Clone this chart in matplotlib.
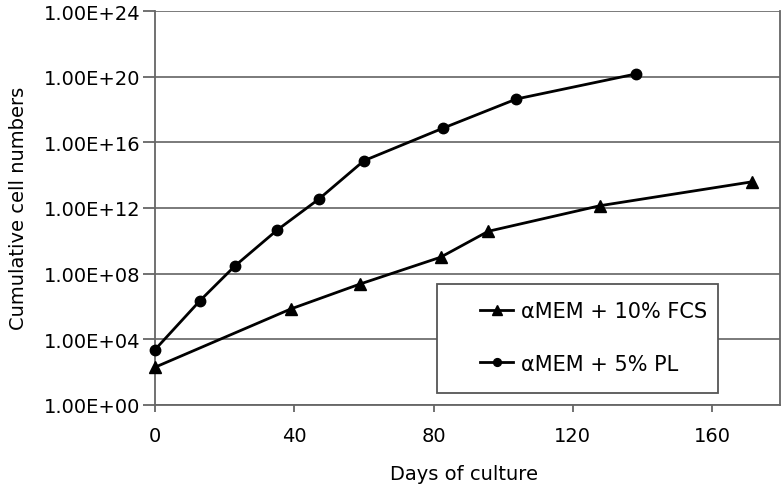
import math
import matplotlib
matplotlib.use('agg')
import matplotlib.pyplot as plt
from matplotlib.patches import Rectangle
from matplotlib.ticker import FixedLocator, FuncFormatter

plt.rcParams['font.family'] = ['DejaVu Sans']

# data (days, cumulative cells)
days_pl = [0, 12.9, 23, 35.1, 47.1, 60, 82.8, 103.8, 138]
cells_pl = [10**3.37, 10**6.35, 10**8.48, 10**10.66, 10**12.55,
            10**14.88, 10**16.87, 10**18.64, 10**20.16]
days_fcs = [0, 39, 58.9, 82, 95.7, 127.8, 171.6]
cells_fcs = [10**2.3, 10**5.85, 10**7.37, 10**9.0, 10**10.58,
             10**12.14, 10**13.6]
label_fcs = '\u03b1MEM + 10% FCS'
label_pl = '\u03b1MEM + 5% PL'
yticks = [1e0, 1e4, 1e8, 1e12, 1e16, 1e20, 1e24]
xticks = [0, 40, 80, 120, 160]

fig = plt.figure(figsize=(7.83, 4.89), dpi=100)
ax = fig.add_axes([155/783, 83/489, 625/783, 394/489])
ax.set_yscale('log')
ax.set_ylim(1e0, 1e24)
ax.set_xlim(0, 179.5)

ax.plot(days_fcs, cells_fcs, color='black', lw=2, marker='^', ms=9,
        label=label_fcs, zorder=3, clip_on=False)
ax.plot(days_pl, cells_pl, color='black', lw=2, marker='o', ms=7.5,
        label=label_pl, zorder=3, clip_on=False)

ax.yaxis.set_major_locator(FixedLocator(yticks))
ax.yaxis.set_minor_locator(FixedLocator([]))
ax.yaxis.set_major_formatter(FuncFormatter(lambda v, p: '1.00E+%02d' % round(math.log10(v))))
ax.set_xticks(xticks)
ax.grid(axis='y', color='#707070', lw=1.3)
ax.set_axisbelow(True)
ax.spines['top'].set_visible(False)
for s in ['left', 'bottom', 'right']:
    ax.spines[s].set_color('#666666')
    ax.spines[s].set_linewidth(1.3)
ax.tick_params(axis='y', direction='out', length=9, width=1.3, color='#666666',
               labelsize=14, pad=1.5)
ax.tick_params(axis='x', direction='out', length=5, width=1.3, color='#666666',
               labelsize=14, pad=10)

ax.set_xlabel('Days of culture', fontsize=14, va='center')
ax.xaxis.set_label_coords(0.4936, -0.1726)
ax.set_ylabel('Cumulative cell numbers', fontsize=14, va='center')
ax.yaxis.set_label_coords(-0.219, 0.5025)

# legend box
ax.add_patch(Rectangle((0.451, 0.0305), 0.45, 0.2765, transform=ax.transAxes,
                       facecolor='white', edgecolor='#555555', lw=1.3, zorder=4))
leg = ax.legend(loc='center', bbox_to_anchor=(0.7016, 0.171), fontsize=15,
                frameon=False, handlelength=1.6, handletextpad=0.35,
                labelspacing=1.55, borderpad=0, borderaxespad=0,
                markerscale=0.75)
leg.set_zorder(5)

plt.savefig('out.png', dpi=100)
